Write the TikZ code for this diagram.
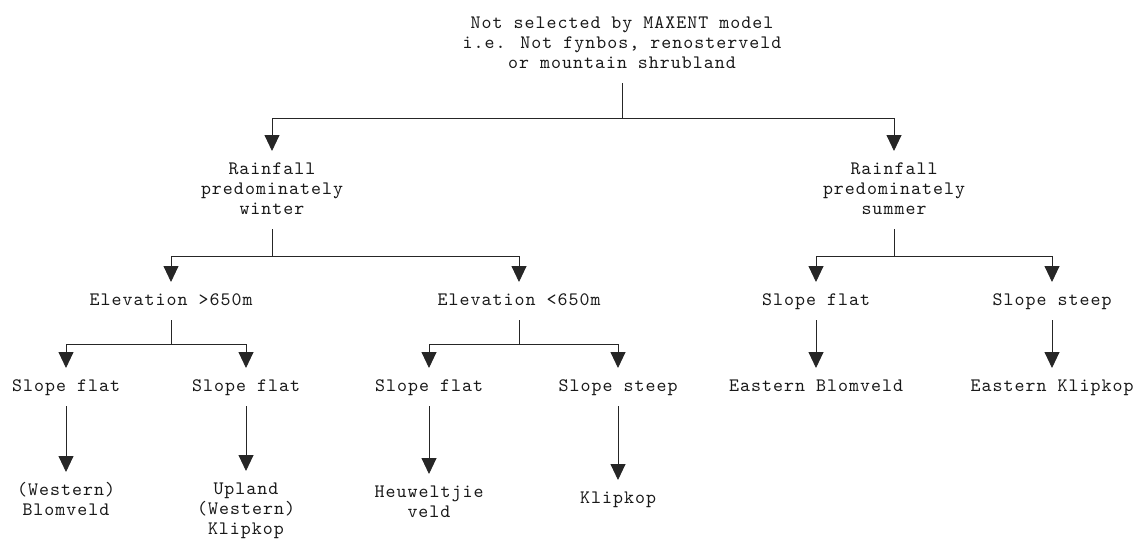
\documentclass[tikz,border=0pt]{standalone}
\usepackage{fontspec}
\newfontfamily\reftt{lmmono10-regular.otf}[LetterSpace=5.4]
\usetikzlibrary{arrows.meta}
\begin{document}
\begin{tikzpicture}[x=1pt,y=-1pt,
  lbl/.style={font=\reftt\fontsize{19}{20}\selectfont,
    align=center, inner xsep=0pt, inner ysep=9pt, outer sep=0pt, anchor=north, text=black!90},
  link/.style={line width=0.9pt, draw=black!85},
  arr/.style={link, -{Triangle[width=15pt,length=16pt]}}]
\useasboundingbox (0,0) rectangle (1136,541);

% nodes
\node[lbl] (root) at (622,5) {\strut Not selected by MAXENT model\\\strut i.e. Not fynbos, renosterveld\\\strut or mountain shrubland};
\node[lbl] (winter) at (272,151) {\strut Rainfall\\\strut predominately\\\strut winter};
\node[lbl] (summer) at (894,151) {\strut Rainfall\\\strut predominately\\\strut summer};
\node[lbl] (eh) at (171,282) {\strut Elevation >650m};
\node[lbl] (el) at (519,282) {\strut Elevation <650m};
\node[lbl] (sf4) at (816,282) {\strut Slope flat};
\node[lbl] (ss4) at (1052,282) {\strut Slope steep};
\node[lbl] (sf1) at (66,368) {\strut Slope flat};
\node[lbl] (sf2) at (246,368) {\strut Slope flat};
\node[lbl] (sf3) at (429,368) {\strut Slope flat};
\node[lbl] (ss3) at (618,368) {\strut Slope steep};
\node[lbl] (eb) at (816,368) {\strut Eastern Blomveld};
\node[lbl] (ek) at (1052,368) {\strut Eastern Klipkop};
\node[lbl] (wb) at (66,472) {\strut (Western)\\\strut Blomveld};
\node[lbl] (uk) at (246,471) {\strut Upland\\\strut (Western)\\\strut Klipkop};
\node[lbl] (hv) at (429,474) {\strut Heuweltjie\\\strut veld};
\node[lbl] (kk) at (618,480) {\strut Klipkop};

% junctions
\coordinate (j1) at (622,118);
\coordinate (j2) at (272,256);
\coordinate (j3) at (894,256);
\coordinate (j4) at (171,344);
\coordinate (j5) at (519,344);

% connectors
\draw[link] (root.south) -- (j1);
\draw[arr] (j1) -| (winter.north);
\draw[arr] (j1) -| (summer.north);

\draw[link] (winter.south) -- (j2);
\draw[arr] (j2) -| (eh.north);
\draw[arr] (j2) -| (el.north);

\draw[link] (summer.south) -- (j3);
\draw[arr] (j3) -| (sf4.north);
\draw[arr] (j3) -| (ss4.north);

\draw[link] (eh.south) -- (j4);
\draw[arr] (j4) -| (sf1.north);
\draw[arr] (j4) -| (sf2.north);

\draw[link] (el.south) -- (j5);
\draw[arr] (j5) -| (sf3.north);
\draw[arr] (j5) -| (ss3.north);

\draw[arr] (sf1.south) -- (wb.north);
\draw[arr] (sf2.south) -- (uk.north);
\draw[arr] (sf3.south) -- (hv.north);
\draw[arr] (ss3.south) -- (kk.north);
\draw[arr] (sf4.south) -- (eb.north);
\draw[arr] (ss4.south) -- (ek.north);
\end{tikzpicture}
\end{document}
